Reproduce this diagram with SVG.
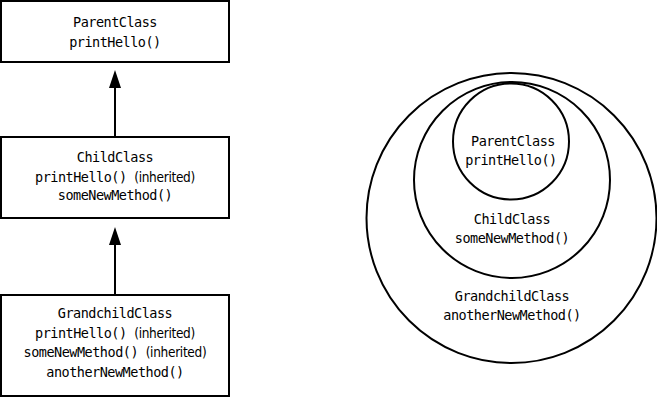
<svg xmlns="http://www.w3.org/2000/svg" width="657" height="398" viewBox="0 0 657 398">
<style>
.box{fill:#fff;stroke:#000;stroke-width:2}
.circ{fill:none;stroke:#000;stroke-width:2}
.t{font-family:"DejaVu Sans Mono","Liberation Mono",monospace;font-size:13.5px;letter-spacing:-0.5px;fill:#000;text-anchor:middle}
.p{font-family:"DejaVu Sans Condensed","Liberation Sans Narrow","Liberation Sans",sans-serif;font-size:13.5px;letter-spacing:-0.3px}
.edge{stroke:#000;stroke-width:2;fill:none}
</style>
<g id="connectors">
<line class="edge" x1="115" y1="137" x2="115" y2="88"/>
<path d="M109,88 L115,70 L121,88 Z" fill="#000"/>
<line class="edge" x1="115" y1="295" x2="115" y2="245"/>
<path d="M109,245 L115,227 L121,245 Z" fill="#000"/>
</g>
<g id="parent">
<rect class="box" x="1" y="1" width="228" height="61"/>
<text class="t" x="115" y="27">ParentClass</text>
<text class="t" x="115" y="47">printHello()</text>
</g>
<g id="child">
<rect class="box" x="1" y="137" width="228" height="81"/>
<text class="t" x="115" y="162">ChildClass</text>
<text class="t" x="115" y="181.5">printHello() <tspan class="p">(inherited)</tspan></text>
<text class="t" x="115" y="200">someNewMethod()</text>
</g>
<g id="grandchild">
<rect class="box" x="1" y="295" width="228" height="101"/>
<text class="t" x="115" y="318">GrandchildClass</text>
<text class="t" x="115" y="337.5">printHello() <tspan class="p">(inherited)</tspan></text>
<text class="t" x="115" y="357">someNewMethod() <tspan class="p">(inherited)</tspan></text>
<text class="t" x="115" y="377">anotherNewMethod()</text>
</g>
<g id="outer-circle">
<circle class="circ" cx="511.5" cy="218" r="145"/>
<text class="t" x="512" y="301">GrandchildClass</text>
<text class="t" x="512" y="319.5">anotherNewMethod()</text>
</g>
<g id="middle-circle">
<circle class="circ" cx="512" cy="180" r="98"/>
<text class="t" x="512" y="224">ChildClass</text>
<text class="t" x="512" y="243">someNewMethod()</text>
</g>
<g id="inner-circle">
<circle class="circ" cx="511" cy="141.5" r="58"/>
<text class="t" x="513" y="146">ParentClass</text>
<text class="t" x="511" y="165">printHello()</text>
</g>
</svg>
